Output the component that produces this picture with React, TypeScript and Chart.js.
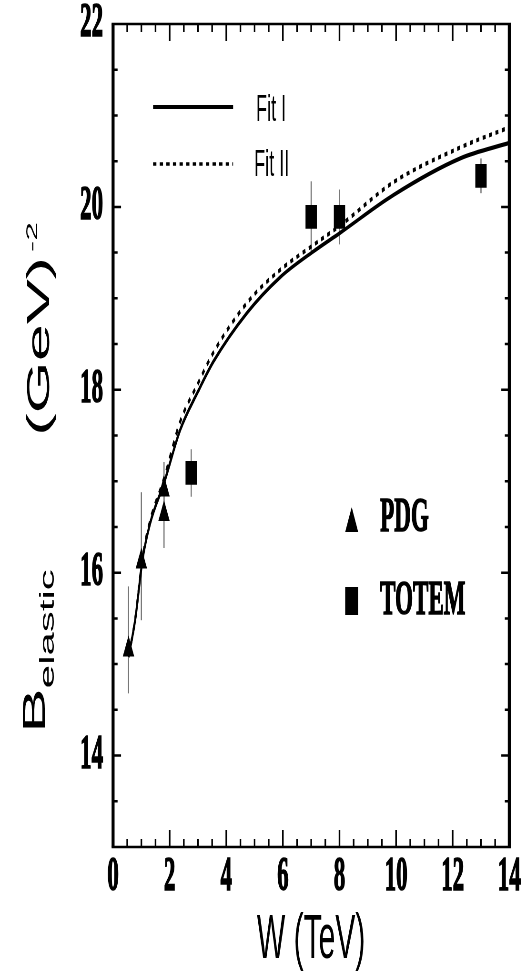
import React, { useEffect, useRef } from 'react';
import { Chart, registerables } from 'chart.js';
Chart.register(...registerables);

// ---- data ----
const X_TICKS = [0, 2, 4, 6, 8, 10, 12, 14];
const Y_TICKS = [14, 16, 18, 20, 22];
const X_MINOR = [0.5, 1, 1.5, 2, 2.5, 3, 3.5, 4, 4.5, 5, 5.5, 6, 6.5, 7, 7.5, 8, 8.5, 9, 9.5, 10, 10.5, 11, 11.5, 12, 12.5, 13, 13.5];
const Y_MINOR = [13.5, 14, 14.5, 15, 15.5, 16, 16.5, 17, 17.5, 18, 18.5, 19, 19.5, 20, 20.5, 21, 21.5];

const pdgW = [0.546, 1.0, 1.8, 1.8];
const pdgB = [15.16, 16.12, 16.91, 16.64];
const pdgErrPlus = [0.69, 0.76, 0.30, 0.37];
const pdgErrMinus = [0.48, 0.64, 0.30, 0.37];

const totemW = [2.76, 7, 8, 13];
const totemB = [17.09, 19.89, 19.89, 20.34];
const totemErr = [0.26, 0.39, 0.30, 0.19];

const fit1W = [0.546, 0.78, 1.04, 1.31, 1.8, 2.37, 3.0, 3.55, 4.73, 5.9, 7.02, 8.04, 9.91, 12.27, 14];
const fit1B = [15.08, 15.48, 16.14, 16.54, 16.98, 17.56, 17.98, 18.31, 18.84, 19.23, 19.5, 19.72, 20.13, 20.53, 20.7];
const fit2W = [0.546, 0.78, 1.04, 1.31, 1.8, 2.37, 3.0, 3.55, 4.73, 5.9, 7.02, 8.04, 9.91, 12.27, 14];
const fit2B = [15.08, 15.49, 16.16, 16.57, 17.03, 17.65, 18.07, 18.41, 18.95, 19.31, 19.57, 19.8, 20.27, 20.65, 20.87];

const X_TITLE = 'W (TeV)';
const LEGEND_FITS = ['Fit I', 'Fit II'];
const LEGEND_DATA = ['PDG', 'TOTEM'];

const STRETCH = 2.1; // vertical stretch of the original figure
const W = 526;
const H = 463;

const pts = (xs: number[], ys: number[]) => xs.map((x, i) => ({ x, y: ys[i] }));

const decor = {
  id: 'decor',
  beforeDatasetsDraw(chart: any) {
    const { ctx, scales } = chart;
    const x = scales.x, y = scales.y;
    ctx.save();
    ctx.strokeStyle = '#777';
    ctx.lineWidth = 1.2;
    const bar = (w: number, lo: number, hi: number) => {
      const px = x.getPixelForValue(w);
      ctx.beginPath();
      ctx.moveTo(px, y.getPixelForValue(hi));
      ctx.lineTo(px, y.getPixelForValue(lo));
      ctx.stroke();
    };
    pdgW.forEach((w, i) => bar(w, pdgB[i] - pdgErrMinus[i], pdgB[i] + pdgErrPlus[i]));
    totemW.forEach((w, i) => bar(w, totemB[i] - totemErr[i], totemB[i] + totemErr[i]));
    ctx.restore();
  },
  afterDatasetsDraw(chart: any) {
    const { ctx, chartArea, scales } = chart;
    const x = scales.x, y = scales.y;
    const { left, right, top, bottom } = chartArea;
    ctx.save();
    ctx.strokeStyle = '#000';
    // frame
    ctx.lineWidth = 3;
    ctx.beginPath();
    ctx.moveTo(left, top); ctx.lineTo(left, bottom);
    ctx.moveTo(right, top); ctx.lineTo(right, bottom);
    ctx.stroke();
    ctx.lineWidth = 1.3;
    ctx.beginPath();
    ctx.moveTo(left - 1.5, top); ctx.lineTo(right + 1.5, top);
    ctx.moveTo(left - 1.5, bottom); ctx.lineTo(right + 1.5, bottom);
    ctx.stroke();
    // x ticks (inward, top and bottom)
    ctx.lineWidth = 1.6;
    ctx.beginPath();
    X_MINOR.forEach((v) => {
      const px = x.getPixelForValue(v);
      const len = X_TICKS.includes(v) ? 17 / STRETCH : 8 / STRETCH;
      ctx.moveTo(px, bottom); ctx.lineTo(px, bottom - len);
      ctx.moveTo(px, top); ctx.lineTo(px, top + len);
    });
    ctx.stroke();
    // y ticks
    ctx.lineWidth = 1.2;
    ctx.beginPath();
    Y_MINOR.forEach((v) => {
      const py = y.getPixelForValue(v);
      const len = Y_TICKS.includes(v) ? 8 : 4.5;
      ctx.moveTo(left, py); ctx.lineTo(left + len, py);
      ctx.moveTo(right, py); ctx.lineTo(right - len, py);
    });
    ctx.stroke();

    // legend: fits
    ctx.lineWidth = 2;
    ctx.beginPath();
    ctx.moveTo(153, 107 / STRETCH); ctx.lineTo(233, 107 / STRETCH);
    ctx.stroke();
    ctx.lineWidth = 1.6;
    ctx.setLineDash([3.3, 3.3]);
    ctx.beginPath();
    ctx.moveTo(153, 164 / STRETCH); ctx.lineTo(233, 164 / STRETCH);
    ctx.stroke();
    ctx.setLineDash([]);
    ctx.fillStyle = '#000';
    ctx.textBaseline = 'middle';
    ctx.textAlign = 'left';
    ctx.font = '18px "Liberation Sans"';
    ctx.fillText(LEGEND_FITS[0], 256, 111 / STRETCH);
    ctx.fillText(LEGEND_FITS[1], 254, 166 / STRETCH);

    // legend: data
    ctx.beginPath();
    ctx.moveTo(351.5, 507 / STRETCH);
    ctx.lineTo(358, 532 / STRETCH);
    ctx.lineTo(345, 532 / STRETCH);
    ctx.closePath();
    ctx.fill();
    ctx.fillRect(345, 587 / STRETCH, 13, 28 / STRETCH);
    ctx.font = 'bold 23px "Liberation Serif"';
    ctx.lineWidth = 0.7;
    ctx.fillText(LEGEND_DATA[0], 380, 518.5 / STRETCH);
    ctx.strokeText(LEGEND_DATA[0], 380, 518.5 / STRETCH);
    ctx.fillText(LEGEND_DATA[1], 380, 601.5 / STRETCH);
    ctx.strokeText(LEGEND_DATA[1], 380, 601.5 / STRETCH);

    // y title (rotated, with sub/superscript)
    ctx.translate(45, 733 / STRETCH);
    ctx.rotate(-Math.PI / 2);
    ctx.textBaseline = 'alphabetic';
    ctx.font = '32px "Liberation Sans"';
    ctx.fillText('B', 0, 0);
    const wB = ctx.measureText('B').width;
    ctx.font = '20px "Liberation Sans"';
    ctx.fillText('elastic', wB, 9);
    ctx.font = '32px "Liberation Sans"';
    ctx.fillText('(GeV)', (733 - 436) / STRETCH, 4);
    ctx.font = '16px "Liberation Sans"';
    ctx.fillText('-2', (733 - 252) / STRETCH, -8);
    ctx.restore();
  },
};

export default function App() {
  const ref = useRef<HTMLCanvasElement | null>(null);
  useEffect(() => {
    document.body.style.margin = '0';
    const canvas = ref.current!;
    const tickFont = { family: 'Liberation Serif', size: 23, weight: 'bold', lineHeight: 1 };
    const chart = new Chart(canvas, {
      type: 'line',
      data: {
        datasets: [
          {
            label: LEGEND_FITS[0],
            data: pts(fit1W, fit1B),
            borderColor: '#000',
            borderWidth: 2,
            pointRadius: 0,
            cubicInterpolationMode: 'monotone',
            fill: false,
          },
          {
            label: LEGEND_FITS[1],
            data: pts(fit2W, fit2B),
            borderColor: '#000',
            borderWidth: 2,
            borderDash: [3, 3.5],
            borderCapStyle: 'butt',
            pointRadius: 0,
            cubicInterpolationMode: 'monotone',
            fill: false,
          },
          {
            label: LEGEND_DATA[0],
            data: pts(pdgW, pdgB),
            showLine: false,
            pointStyle: 'triangle',
            pointRadius: 6.6,
            pointBackgroundColor: '#000',
            pointBorderColor: '#000',
            pointBorderWidth: 0,
          },
          {
            label: LEGEND_DATA[1],
            data: pts(totemW, totemB),
            showLine: false,
            pointStyle: 'rect',
            pointRadius: 8,
            pointBackgroundColor: '#000',
            pointBorderColor: '#000',
            pointBorderWidth: 0,
          },
        ],
      },
      options: {
        animation: false,
        responsive: false,
        maintainAspectRatio: false,
        devicePixelRatio: STRETCH,
        layout: { padding: { left: 0, right: 17, top: 24 / STRETCH, bottom: 0 } },
        plugins: { legend: { display: false }, tooltip: { enabled: false } },
        events: [],
        scales: {
          x: {
            type: 'linear',
            min: 0,
            max: 14,
            position: 'bottom',
            afterBuildTicks: (s: any) => { s.ticks = X_TICKS.map((v) => ({ value: v })); },
            afterFit: (s: any) => { s.height = H - 847 / STRETCH; s.paddingLeft = 0; s.paddingRight = 0; },
            grid: { display: false, drawTicks: false },
            border: { display: false },
            ticks: {
              color: '#000',
              font: tickFont,
              textStrokeColor: '#000',
              textStrokeWidth: 0.7,
              padding: 3,
              maxRotation: 0,
              autoSkip: false,
            },
            title: {
              display: true,
              text: X_TITLE,
              color: '#000',
              font: { family: 'Liberation Sans', size: 30, lineHeight: 1 },
              padding: 0,
            },
          },
          y: {
            type: 'linear',
            min: 13,
            max: 22,
            position: 'left',
            afterBuildTicks: (s: any) => { s.ticks = Y_TICKS.map((v) => ({ value: v })); },
            afterFit: (s: any) => { s.width = 113; s.paddingTop = 0; s.paddingBottom = 0; },
            grid: { display: false, drawTicks: false },
            border: { display: false },
            ticks: {
              color: '#000',
              font: tickFont,
              textStrokeColor: '#000',
              textStrokeWidth: 0.7,
              padding: 10,
            },
          },
        },
      },
      plugins: [decor],
    } as any);
    return () => chart.destroy();
  }, []);
  return (
    <div style={{ position: 'absolute', left: 0, top: 0, width: W, height: 972, background: '#fff' }}>
      <canvas ref={ref} width={W} height={H} style={{ width: W + 'px', height: '972px', display: 'block' }} />
    </div>
  );
}
